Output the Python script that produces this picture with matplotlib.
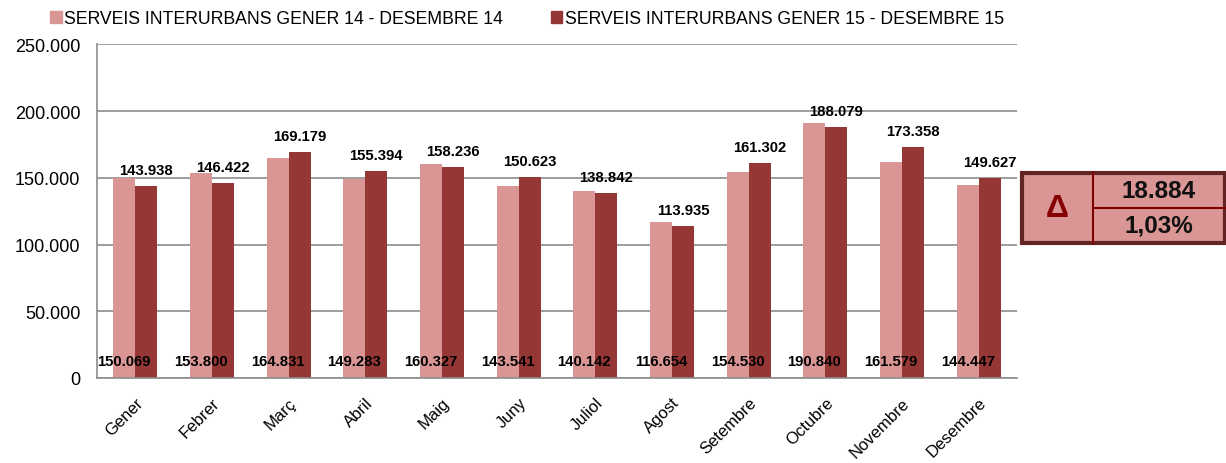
import numpy as np
import matplotlib.pyplot as plt
from matplotlib.patches import Patch, Rectangle

months = ['Gener', 'Febrer', 'Març', 'Abril', 'Maig', 'Juny', 'Juliol',
          'Agost', 'Setembre', 'Octubre', 'Novembre', 'Desembre']
serveis_14 = [150069, 153800, 164831, 149283, 160327, 143541, 140142,
              116654, 154530, 190840, 161579, 144447]
serveis_15 = [143938, 146422, 169179, 155394, 158236, 150623, 138842,
              113935, 161302, 188079, 173358, 149627]
label_14 = 'SERVEIS INTERURBANS GENER 14 - DESEMBRE 14'
label_15 = 'SERVEIS INTERURBANS GENER 15 - DESEMBRE 15'
delta_abs = '18.884'
delta_pct = '1,03%'

c14 = '#d99694'
c15 = '#953735'

plt.rcParams['font.family'] = ['Liberation Sans', 'DejaVu Sans']

def fmt(v):
    return f'{v:,.0f}'.replace(',', '.')

fig = plt.figure(figsize=(12.26, 4.64), dpi=100)
ax = fig.add_axes([0.0791, 0.1832, 0.7504, 0.7188])

x = np.arange(len(months))
w = 0.287
ax.bar(x - w / 2, serveis_14, w, color=c14, zorder=2)
ax.bar(x + w / 2, serveis_15, w, color=c15, zorder=2)

# etiquetes: 2014 a baix, 2015 damunt la barra
for i in range(len(months)):
    ax.text(x[i] - w / 2, 13000, fmt(serveis_14[i]), ha='center', va='center',
            fontsize=10.7, fontweight='bold', color='black', zorder=3)
    ax.text(x[i] + w / 2, serveis_15[i] + 9000, fmt(serveis_15[i]),
            ha='center', va='baseline', fontsize=10.7, fontweight='bold',
            color='black', zorder=3)

ax.set_xlim(-0.5, len(months) - 0.5)
ax.set_ylim(0, 250000)
ax.set_yticks(np.arange(0, 250001, 50000))
ax.set_yticklabels([fmt(v) for v in np.arange(0, 250001, 50000)], fontsize=13)
ax.set_xticks(x)
ax.set_xticklabels(months, rotation=45, ha='right', rotation_mode='anchor',
                   fontsize=12)
ax.tick_params(axis='y', length=0, pad=12)
ax.tick_params(axis='x', length=0, pad=12)
ax.grid(axis='y', color='#8c8c8c', lw=1.2, zorder=0)
for s in ['top', 'right']:
    ax.spines[s].set_visible(False)
for s in ['left', 'bottom']:
    ax.spines[s].set_color('#8c8c8c')
    ax.spines[s].set_linewidth(1.2)

handles = [Patch(color=c14, label=label_14), Patch(color=c15, label=label_15)]
fig.legend(handles=handles, loc='center', bbox_to_anchor=(0.43, 0.958), ncol=2,
           frameon=False, fontsize=12.7, handlelength=0.65, handleheight=0.65,
           handletextpad=0.15, columnspacing=2.7, borderpad=0, borderaxespad=0)

# quadre de la variació
W, H = 1226, 464
x0, x1, x2 = 1022 / W, 1093 / W, 1224.5 / W
y0, y1, y2 = (H - 244) / H, (H - 209) / H, (H - 174) / H
fig.patches.append(Rectangle((x0, y0), x2 - x0, y2 - y0, transform=fig.transFigure,
                             facecolor=c14, edgecolor='#632523', lw=3, zorder=2))
fig.add_artist(plt.Line2D([x1, x1], [y0, y2], color='#800000', lw=1.5, zorder=3))
fig.add_artist(plt.Line2D([x1, x2], [y1, y1], color='#800000', lw=1.5, zorder=3))
fig.text((x0 + x1) / 2, (y0 + y2) / 2, 'Δ', ha='center', va='center',
         fontsize=23, fontweight='bold', color='#850000', zorder=4)
fig.text((x1 + x2) / 2, (y1 + y2) / 2, delta_abs, ha='center', va='center',
         fontsize=17.5, fontweight='bold', color='#111111', zorder=4)
fig.text((x1 + x2) / 2, (y0 + y1) / 2, delta_pct, ha='center', va='center',
         fontsize=17.5, fontweight='bold', color='#111111', zorder=4)

fig.savefig('out.png', dpi=100)
